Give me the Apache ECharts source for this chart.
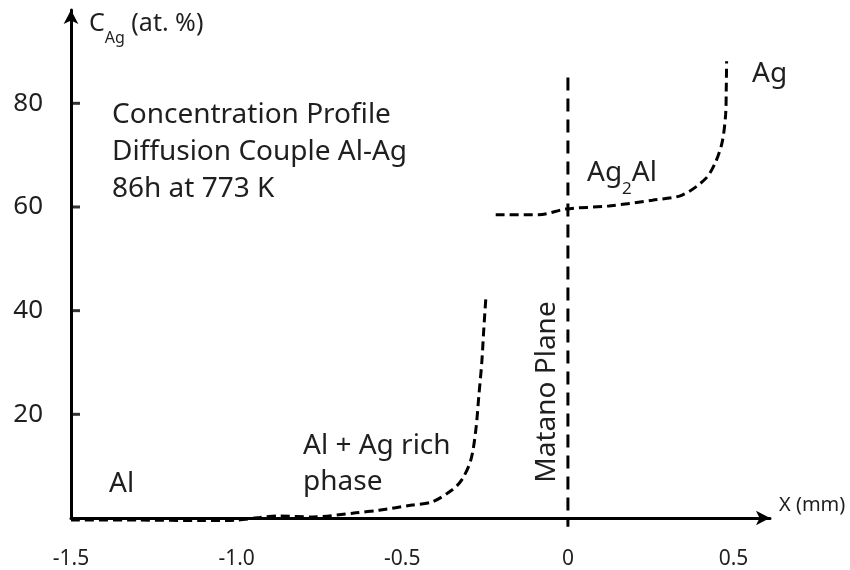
<!DOCTYPE html>
<html>
<head>
<meta charset="utf-8">
<script src="https://cdn.jsdelivr.net/npm/echarts@6/dist/echarts.min.js"></script>
<style>
  html, body { margin: 0; padding: 0; background: #fff; }
  #main { width: 850px; height: 570px; }
</style>
</head>
<body>
<div id="main"></div>
<script>
// concentration profile, Al side (x in mm, C_Ag in at.%)
var alSide = [
  [-1.5, -0.4], [-1.3, -0.4], [-1.1, -0.5], [-1.0, -0.4], [-0.93, 0.1],
  [-0.87, 0.4], [-0.77, 0.2], [-0.64, 1.0], [-0.57, 1.5], [-0.47, 2.5],
  [-0.41, 3.1], [-0.35, 5.4], [-0.32, 7.4], [-0.293, 11.2], [-0.278, 17],
  [-0.269, 23.5], [-0.26, 30], [-0.254, 36.4], [-0.248, 42.2]
];
// Ag2Al / Ag side
var agSide = [
  [-0.218, 58.5], [-0.088, 58.5], [-0.007, 59.6], [0.124, 60.2],
  [0.255, 61.3], [0.345, 62.3], [0.416, 65.5], [0.446, 68.7],
  [0.466, 72.6], [0.476, 77.8], [0.478, 83], [0.479, 88.1]
];
// Matano plane
var matano = [[0, 85], [0, -1.7]];

var xTickValues = [-1.5, -1.0, -0.5, 0, 0.5];
var xTickLabels = ['-1.5', '-1.0', '-0.5', '0', '0.5'];
var yTickValues = [20, 40, 60, 80];

var FONT = 'Noto Sans';
var INK = '#1f1f1f';
var myChart = echarts.init(document.getElementById('main'));
var dashed = {
  color: '#000',
  width: 3,
  type: [9, 5]
};
// small inside ticks on the y axis, placed on the axis at x = min
var yTickMarks = yTickValues.map(function (v) { return [xTickValues[0], v]; });

var option = {
  animation: false,
  backgroundColor: '#fff',
  grid: { left: 71, right: 80, top: 10, bottom: 52 },
  xAxis: {
    type: 'value',
    min: -1.5,
    max: 0.61,
    interval: 0.5,
    splitLine: { show: false },
    axisLine: {
      show: true,
      onZero: false,
      symbol: ['none', 'arrow'],
      symbolSize: [11, 14],
      lineStyle: { color: '#000', width: 3 }
    },
    axisTick: { show: false },
    axisLabel: {
      customValues: xTickValues,
      margin: 31,
      color: INK,
      fontSize: 21,
      fontFamily: FONT,
      formatter: function (v) {
        var i = xTickValues.indexOf(v);
        return i >= 0 ? xTickLabels[i] : '';
      }
    }
  },
  yAxis: {
    type: 'value',
    min: 0,
    max: 98,
    interval: 20,
    splitLine: { show: false },
    axisLine: {
      show: true,
      onZero: false,
      symbol: ['none', 'arrow'],
      symbolSize: [11, 14],
      lineStyle: { color: '#000', width: 3 }
    },
    axisTick: { show: false },
    axisLabel: {
      show: true,
      showMinLabel: false,
      showMaxLabel: false,
      margin: 28,
      color: INK,
      fontSize: 26,
      fontFamily: FONT,
      formatter: function (v) {
        return yTickValues.indexOf(v) >= 0 ? String(v) : '';
      }
    }
  },
  series: [
    {
      type: 'line', data: alSide, showSymbol: false, smooth: 0.3, clip: false,
      lineStyle: dashed
    },
    {
      type: 'line', data: agSide, showSymbol: false, smooth: 0.3,
      lineStyle: dashed
    },
    {
      type: 'line', data: matano, showSymbol: false, clip: false,
      lineStyle: { color: '#000', width: 3, type: [13, 8] }
    },
    {
      type: 'scatter', data: yTickMarks, silent: true, clip: false,
      symbol: 'rect', symbolSize: [9, 3], symbolOffset: [4.5, 0],
      itemStyle: { color: '#000' }, z: 5
    }
  ],
  graphic: [
    {
      type: 'text', left: 89, top: 11,
      style: {
        text: '{a|C}{s|Ag}{a| (at. %)}',
        rich: {
          a: { fontSize: 25, fontFamily: FONT, fill: INK, lineHeight: 34 },
          s: { fontSize: 16, fontFamily: FONT, fill: INK, lineHeight: 34, verticalAlign: 'bottom', padding: [0, 0, -6, 0] }
        }
      }
    },
    {
      type: 'text', left: 112, top: 97,
      style: {
        text: 'Concentration Profile\nDiffusion Couple Al-Ag\n86h at 773 K',
        fontSize: 28, fontFamily: FONT, fill: INK, lineHeight: 37
      }
    },
    {
      type: 'text', left: 109, top: 466,
      style: { text: 'Al', fontSize: 28, fontFamily: FONT, fill: INK, lineHeight: 37 }
    },
    {
      type: 'text', left: 303, top: 428,
      style: {
        text: 'Al + Ag rich\nphase',
        fontSize: 28, fontFamily: FONT, fill: INK, lineHeight: 36
      }
    },
    {
      type: 'text', left: 587, top: 159,
      style: {
        text: '{a|Ag}{s|2}{a|Al}',
        rich: {
          a: { fontSize: 28, fontFamily: FONT, fill: INK, lineHeight: 37 },
          s: { fontSize: 17, fontFamily: FONT, fill: INK, lineHeight: 37, verticalAlign: 'bottom', padding: [0, 0, -6, 0] }
        }
      }
    },
    {
      type: 'text', left: 752, top: 56,
      style: { text: 'Ag', fontSize: 28, fontFamily: FONT, fill: INK, lineHeight: 37 }
    },
    {
      type: 'text', x: 547, y: 392, rotation: Math.PI / 2,
      style: {
        text: 'Matano Plane', fontSize: 28, fontFamily: FONT, fill: INK,
        align: 'center', verticalAlign: 'middle'
      }
    },
    {
      type: 'text', left: 779, top: 495,
      style: { text: 'X (mm)', fontSize: 20, fontFamily: FONT, fill: INK }
    }
  ]
};
myChart.setOption(option);
</script>
</body>
</html>
